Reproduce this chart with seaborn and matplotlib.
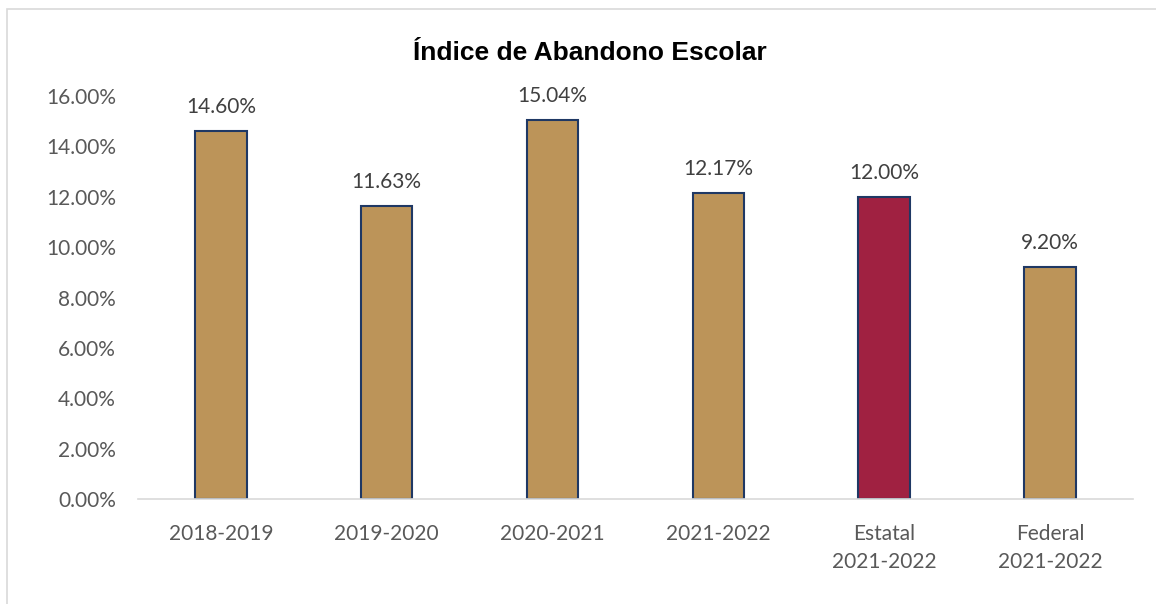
import matplotlib
matplotlib.use("Agg")
import matplotlib.pyplot as plt
import seaborn as sns
import pandas as pd
from matplotlib.patches import Rectangle

categories = ["2018-2019", "2019-2020", "2020-2021", "2021-2022", "Estatal\n2021-2022", "Federal\n2021-2022"]
values = [14.60, 11.63, 15.04, 12.17, 12.00, 9.20]
bar_colors = ["#BC9459", "#BC9459", "#BC9459", "#BC9459", "#A02141", "#BC9459"]
yticks = [0, 2, 4, 6, 8, 10, 12, 14, 16]

sns.set_theme(style="white")
plt.rcParams['font.family'] = ['Lato', 'DejaVu Sans']

df = pd.DataFrame({"cat": categories, "val": values})
fig = plt.figure(figsize=(11.56, 6.04), dpi=100)
ax = fig.add_axes([0.1194, 0.1738, 0.8606, 0.6672])
sns.barplot(data=df, x="cat", y="val", hue="cat", palette=bar_colors, legend=False,
            width=0.31, edgecolor="#1F3864", linewidth=1.5, ax=ax, saturation=1)
ax.set_ylim(0, 16)
ax.set_xlim(-0.5, len(categories) - 0.5)
ax.set_yticks(yticks)
ax.set_yticklabels([f"{t:.2f}%" for t in yticks], fontsize=15, color="#595959")
ax.tick_params(axis="x", labelsize=15, labelcolor="#595959", pad=18, length=0)
ax.tick_params(axis="y", length=0, pad=16)
for lbl in ax.get_xticklabels():
    lbl.set_linespacing(1.5)
ax.set_xlabel("")
ax.set_ylabel("")
for s in ["top", "right", "left"]:
    ax.spines[s].set_visible(False)
ax.spines["bottom"].set_color("#D9D9D9")
ax.spines["bottom"].set_linewidth(1.2)
for i, v in enumerate(values):
    ax.annotate(f"{v:.2f}%", (i, v), xytext=(0, 10), textcoords="offset points",
                ha="center", va="bottom", fontsize=15, color="#404040")
fig.text(0.51, 0.912, "Índice de Abandono Escolar", ha="center", va="center",
         fontsize=19, fontweight="bold", family=["Liberation Sans", "DejaVu Sans"], color="#000000")
fig.patches.append(Rectangle((7/1156, -0.05), 1.2, 1 - 9/604 + 0.05, transform=fig.transFigure,
                             fill=False, edgecolor="#D9D9D9", linewidth=1.2))
fig.savefig("out.png", dpi=100)
